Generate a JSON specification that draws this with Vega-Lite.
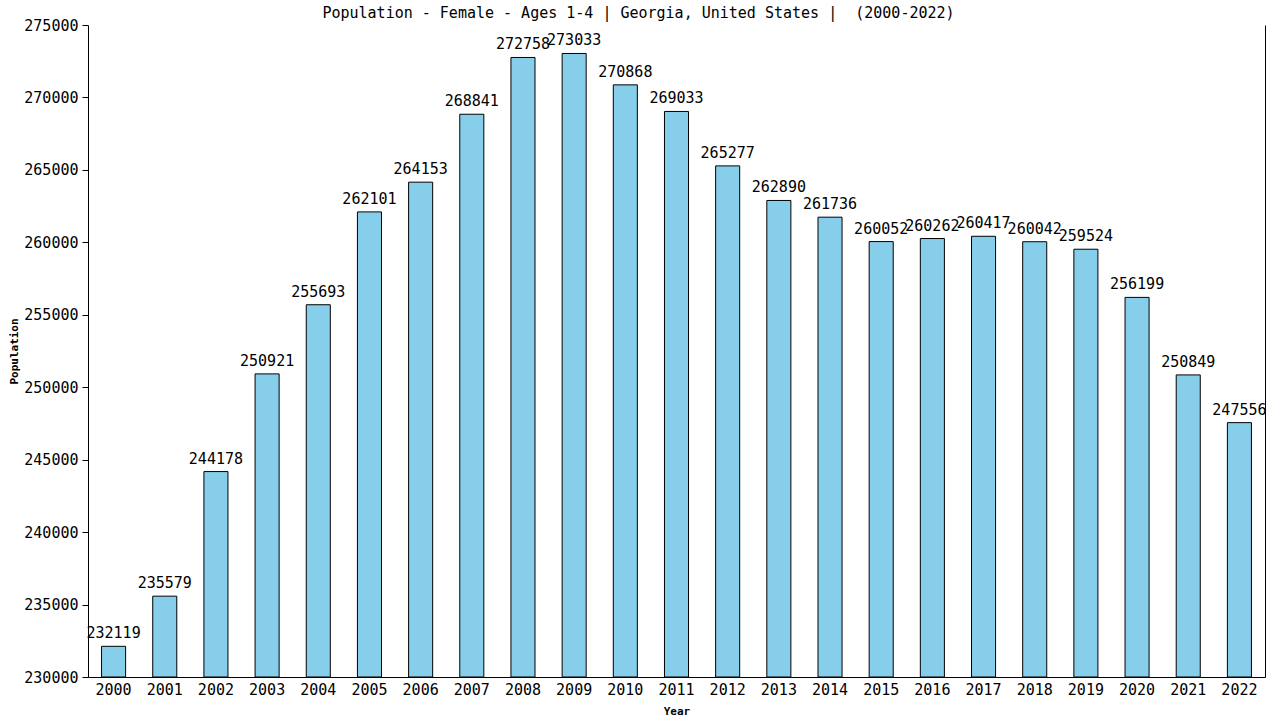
{
  "$schema": "https://vega.github.io/schema/vega-lite/v6.json",
  "autosize": "none",
  "width": 1177,
  "height": 652,
  "padding": {"left": 88, "top": 25, "right": 15, "bottom": 43},
  "background": "white",
  "title": {
    "text": "Population - Female - Ages 1-4 | Georgia, United States | \u00a0(2000-2022)",
    "font": "DejaVu Sans Mono",
    "fontSize": 15,
    "fontWeight": "normal",
    "color": "black",
    "anchor": "middle",
    "dx": -38,
    "offset": -3
  },
  "config": {
    "view": {"stroke": null},
    "axis": {
      "labelFont": "DejaVu Sans Mono",
      "labelFontSize": 15,
      "labelColor": "black",
      "titleFont": "DejaVu Sans Mono",
      "titleFontSize": 11,
      "titleFontWeight": "bold",
      "titleColor": "black",
      "domainColor": "black",
      "tickColor": "black",
      "grid": false
    }
  },
  "data": {
    "values": [
      {"Year": "2000", "Population": 232119},
      {"Year": "2001", "Population": 235579},
      {"Year": "2002", "Population": 244178},
      {"Year": "2003", "Population": 250921},
      {"Year": "2004", "Population": 255693},
      {"Year": "2005", "Population": 262101},
      {"Year": "2006", "Population": 264153},
      {"Year": "2007", "Population": 268841},
      {"Year": "2008", "Population": 272758},
      {"Year": "2009", "Population": 273033},
      {"Year": "2010", "Population": 270868},
      {"Year": "2011", "Population": 269033},
      {"Year": "2012", "Population": 265277},
      {"Year": "2013", "Population": 262890},
      {"Year": "2014", "Population": 261736},
      {"Year": "2015", "Population": 260052},
      {"Year": "2016", "Population": 260262},
      {"Year": "2017", "Population": 260417},
      {"Year": "2018", "Population": 260042},
      {"Year": "2019", "Population": 259524},
      {"Year": "2020", "Population": 256199},
      {"Year": "2021", "Population": 250849},
      {"Year": "2022", "Population": 247556}
    ]
  },
  "encoding": {
    "x": {
      "field": "Year",
      "type": "ordinal",
      "scale": {"paddingInner": 0, "paddingOuter": 0},
      "axis": {"labelAngle": 0, "ticks": false, "labelPadding": 5, "title": "Year", "titlePadding": 8}
    }
  },
  "layer": [
    {
      "mark": {"type": "bar", "fill": "#87CEEB", "stroke": "black", "strokeWidth": 1, "width": {"band": 0.47}},
      "encoding": {
        "y": {
          "field": "Population",
          "type": "quantitative",
          "scale": {"domain": [230000, 275000], "nice": false, "zero": false},
          "axis": {"values": [230000, 235000, 240000, 245000, 250000, 255000, 260000, 265000, 270000, 275000], "tickSize": 6, "labelPadding": 4, "title": "Population", "titlePadding": 4, "format": "d"}
        },
        "y2": {"datum": 230000}
      }
    },
    {
      "mark": {"type": "text", "font": "DejaVu Sans Mono", "fontSize": 15, "color": "black", "baseline": "bottom", "dy": -5},
      "encoding": {
        "y": {
          "field": "Population",
          "type": "quantitative",
          "scale": {"domain": [230000, 275000], "nice": false, "zero": false},
          "axis": {"orient": "right", "labels": false, "ticks": false, "title": null}
        },
        "text": {"field": "Population", "type": "quantitative", "format": "d"}
      }
    }
  ],
  "resolve": {"axis": {"y": "independent"}}
}
